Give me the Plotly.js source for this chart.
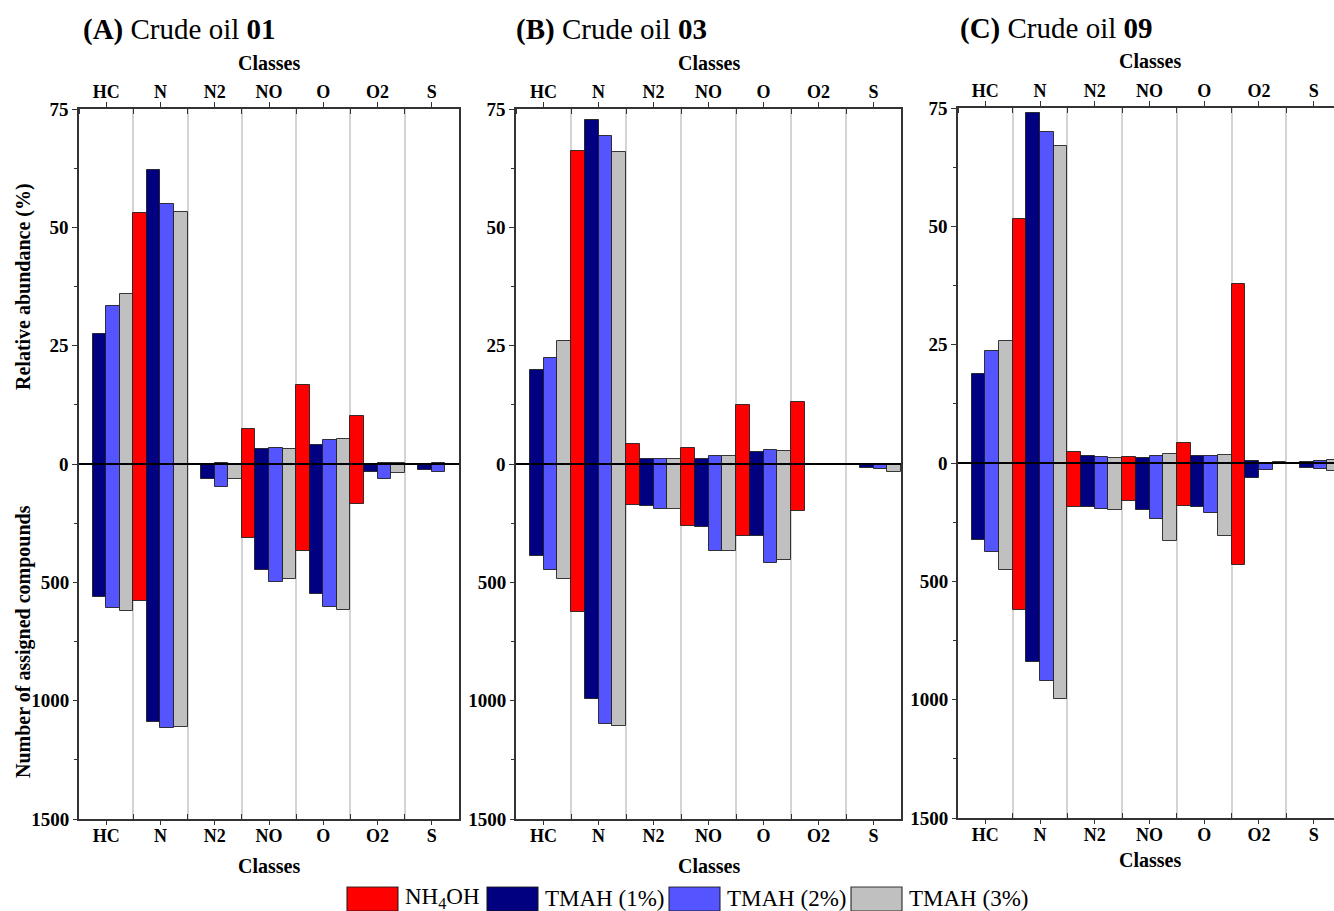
<!DOCTYPE html>
<html>
<head>
<meta charset="utf-8">
<script src="https://cdn.plot.ly/plotly-3.0.1.min.js"></script>
<style>
html,body{margin:0;padding:0;overflow:hidden;background:#fff;}
#chart{width:1342px;height:911px;}
</style>
</head>
<body>
<div id="chart"></div>
<script>
// ---------------- DATA ----------------
const categories = ['HC', 'N', 'N2', 'NO', 'O', 'O2', 'S'];
const seriesNames = ['NH<sub>4</sub>OH', 'TMAH (1%)', 'TMAH (2%)', 'TMAH (3%)'];
const panelTitles = ['<b>(A)</b> Crude oil <b>01</b>', '<b>(B)</b> Crude oil <b>03</b>', '<b>(C)</b> Crude oil <b>09</b>'];
const pctTickLabels = [0, 25, 50, 75];
const countTickLabels = [500, 1000, 1500];

// Crude oil 01 — relative abundance (%)
const oil01PctNH4OH = [null, 53.0, null, 7.4, 16.7, 10.1, null];
const oil01PctTMAH1 = [27.5, 62.1, 0, 3.2, 4.1, 0, 0];
const oil01PctTMAH2 = [33.4, 55.0, 0.2, 3.4, 5.0, 0.2, 0.2];
const oil01PctTMAH3 = [36.0, 53.3, 0, 3.1, 5.3, 0.2, 0];
// Crude oil 01 — number of assigned compounds
const oil01CntNH4OH = [null, 577, null, 312, 367, 168, null];
const oil01CntTMAH1 = [562, 1091, 62, 446, 549, 34, 27];
const oil01CntTMAH2 = [610, 1116, 97, 498, 604, 65, 34];
const oil01CntTMAH3 = [621, 1113, 63, 485, 615, 39, 5];

// Crude oil 03 — relative abundance (%)
const oil03PctNH4OH = [null, 66.2, 4.15, 3.4, 12.4, 13.1, null];
const oil03PctTMAH1 = [19.9, 72.7, 1.13, 1.06, 2.5, null, 0];
const oil03PctTMAH2 = [22.4, 69.3, 1.06, 1.7, 2.96, null, 0];
const oil03PctTMAH3 = [26.0, 65.9, 1.06, 1.76, 2.7, null, 0];
// Crude oil 03 — number of assigned compounds
const oil03CntNH4OH = [null, 625, 175, 264, 305, 200, null];
const oil03CntTMAH1 = [388, 991, 176, 265, 306, null, 16];
const oil03CntTMAH2 = [449, 1099, 190, 368, 418, null, 21];
const oil03CntTMAH3 = [485, 1109, 190, 368, 404, null, 35];

// Crude oil 09 — relative abundance (%)
const oil09PctNH4OH = [null, 51.5, 2.25, 1.2, 4.15, 37.8, null];
const oil09PctTMAH1 = [18.8, 73.9, 1.45, 1.0, 1.55, 0.35, 0.3];
const oil09PctTMAH2 = [23.7, 70.0, 1.34, 1.4, 1.4, 0.1, 0.35];
const oil09PctTMAH3 = [25.7, 66.9, 1.13, 1.83, 1.76, 0.2, 0.7];
// Crude oil 09 — number of assigned compounds
const oil09CntNH4OH = [null, 623, 184, 160, 183, 432, null];
const oil09CntTMAH1 = [326, 841, 186, 197, 184, 65, 20];
const oil09CntTMAH2 = [378, 923, 194, 235, 211, 31, 25];
const oil09CntTMAH3 = [452, 998, 198, 329, 307, 6, 35];

// ---------------- STYLE / LAYOUT ----------------
const seriesColors = ['#ff0000', '#000080', '#5555ff', '#c0c0c0'];
const FONT = '"Liberation Serif", "Times New Roman", Times, serif';
const W = 1342, H = 911;
const px = v => v / W;
const py = v => 1 - v / H;

const panelPct = [
  [oil01PctNH4OH, oil01PctTMAH1, oil01PctTMAH2, oil01PctTMAH3],
  [oil03PctNH4OH, oil03PctTMAH1, oil03PctTMAH2, oil03PctTMAH3],
  [oil09PctNH4OH, oil09PctTMAH1, oil09PctTMAH2, oil09PctTMAH3]
];
const panelCnt = [
  [oil01CntNH4OH, oil01CntTMAH1, oil01CntTMAH2, oil01CntTMAH3],
  [oil03CntNH4OH, oil03CntTMAH1, oil03CntTMAH2, oil03CntTMAH3],
  [oil09CntNH4OH, oil09CntTMAH1, oil09CntTMAH2, oil09CntTMAH3]
];

const boxes = [
  {l: 79, r: 459, t: 109, b: 819, titleX: 81, titleY: 29, topTitleY: 63, botTitleY: 866},
  {l: 516, r: 901, t: 109, b: 819, titleX: 514, titleY: 29, topTitleY: 63, botTitleY: 866},
  {l: 958, r: 1341, t: 108, b: 818, titleX: 958, titleY: 28, topTitleY: 61, botTitleY: 860}
];

const axisColor = '#333333';
const tickFontX = {family: FONT, size: 18, color: '#000', weight: 'bold'};
const tickFontY = {family: FONT, size: 19, color: '#000', weight: 'bold'};

const traces = [];
const layout = {
  width: W, height: H,
  margin: {l: 0, r: 0, t: 0, b: 0},
  paper_bgcolor: '#fff', plot_bgcolor: 'rgba(0,0,0,0)',
  barmode: 'group', bargap: 0, bargroupgap: 0,
  showlegend: false,
  font: {family: FONT, color: '#000'},
  annotations: [], shapes: []
};

const idx = categories.map((c, i) => i);

for (let p = 0; p < 3; p++) {
  const n = p + 1;
  const xId = p === 0 ? 'x' : 'x' + n;
  const yId = p === 0 ? 'y' : 'y' + n;
  const xTopId = 'x' + (n + 3);
  const xLabId = 'x' + (n + 6);
  const yCntId = 'y' + (n + 3);
  const key = id => id.replace('x', 'xaxis').replace('y', 'yaxis');
  const b = boxes[p];

  layout[key(xId)] = {
    domain: [px(b.l), px(b.r)], anchor: yId, type: 'category',
    categoryorder: 'array', categoryarray: categories, range: [-0.5, categories.length - 0.5],
    tickson: 'boundaries', ticks: 'inside', ticklen: 5, tickcolor: axisColor, tickwidth: 1.2,
    showticklabels: false, showgrid: true, gridcolor: '#d4d4d4', gridwidth: 1.5,
    showline: true, linecolor: axisColor, linewidth: 1.5, zeroline: false, fixedrange: true
  };
  layout[key(xTopId)] = {
    overlaying: xId, anchor: yId, side: 'top', type: 'linear',
    range: [-0.5, categories.length - 0.5], tickmode: 'array', tickvals: idx, ticktext: categories,
    ticks: 'outside', ticklen: 5, tickcolor: axisColor, tickwidth: 1.2, tickfont: tickFontX,
    ticklabelstandoff: -3,
    showline: true, linecolor: axisColor, linewidth: 1.5, showgrid: false, zeroline: false,
    fixedrange: true,
    minor: {tick0: 0.5, dtick: 1, ticks: 'inside', ticklen: 5, tickcolor: axisColor, showgrid: false}
  };
  layout[key(xLabId)] = {
    overlaying: xId, anchor: yId, side: 'bottom', type: 'linear',
    range: [-0.5, categories.length - 0.5], tickmode: 'array', tickvals: idx, ticktext: categories,
    ticks: 'outside', ticklen: 5, tickcolor: axisColor, tickwidth: 1.2, tickfont: tickFontX,
    ticklabelstandoff: -5,
    showline: false, showgrid: false, zeroline: false, fixedrange: true
  };
  layout[key(yId)] = {
    domain: [py(b.b), py(b.t)], anchor: xId, range: [-75, 75],
    tickmode: 'array', tickvals: pctTickLabels, ticktext: pctTickLabels.map(String),
    ticks: 'outside', ticklen: 5, tickcolor: axisColor, tickwidth: 1.2, tickfont: tickFontY,
    showline: true, mirror: true, linecolor: axisColor, linewidth: 1.5,
    showgrid: false, zeroline: false, fixedrange: true,
    minor: {tick0: 0, dtick: 12.5, ticks: 'outside', ticklen: 3, tickcolor: axisColor, showgrid: false}
  };
  layout[key(yCntId)] = {
    overlaying: yId, anchor: xId, side: 'left', range: [1500, -1500],
    tickmode: 'array', tickvals: countTickLabels, ticktext: countTickLabels.map(String),
    ticks: 'outside', ticklen: 5, tickcolor: axisColor, tickwidth: 1.2, tickfont: tickFontY,
    showline: false, showgrid: false, zeroline: false, fixedrange: true
  };

  for (let s = 0; s < 4; s++) {
    const common = {
      type: 'bar', x: categories, name: seriesNames[s], xaxis: xId,
      marker: {color: seriesColors[s], line: {color: 'rgba(25,25,25,0.85)', width: 1}},
      hoverinfo: 'x+y+name'
    };
    traces.push(Object.assign({}, common, {y: panelPct[p][s], yaxis: yId}));
    traces.push(Object.assign({}, common, {y: panelCnt[p][s], yaxis: yCntId}));
  }
  // invisible carriers so the top / bottom label axes are drawn
  [xTopId, xLabId].forEach(ax => {
    traces.push({
      type: 'scatter', mode: 'markers', x: idx, y: idx.map(() => 0),
      xaxis: ax, yaxis: yId, marker: {opacity: 0, size: 1}, hoverinfo: 'skip', showlegend: false
    });
  });

  // zero line on top of the bars
  layout.shapes.push({
    type: 'line', xref: xId + ' domain', yref: yId, x0: 0, x1: 1, y0: 0, y1: 0,
    line: {color: '#000', width: 2}, layer: 'above'
  });

  // panel title
  layout.annotations.push({
    xref: 'paper', yref: 'paper', x: px(b.titleX), y: py(b.titleY),
    xanchor: 'left', yanchor: 'middle', showarrow: false,
    text: panelTitles[p], font: {family: FONT, size: 29, color: '#000'}
  });
  // "Classes" top and bottom
  layout.annotations.push({
    xref: 'paper', yref: 'paper', x: px((b.l + b.r) / 2), y: py(b.topTitleY),
    xanchor: 'center', yanchor: 'middle', showarrow: false,
    text: '<b>Classes</b>', font: {family: FONT, size: 20, color: '#000'}
  });
  layout.annotations.push({
    xref: 'paper', yref: 'paper', x: px((b.l + b.r) / 2), y: py(b.botTitleY),
    xanchor: 'center', yanchor: 'middle', showarrow: false,
    text: '<b>Classes</b>', font: {family: FONT, size: 20, color: '#000'}
  });
}

// y-axis titles (panel A)
layout.annotations.push({
  xref: 'paper', yref: 'paper', x: px(23), y: py(287), xanchor: 'center', yanchor: 'middle',
  showarrow: false, textangle: -90, text: '<b>Relative abundance (%)</b>',
  font: {family: FONT, size: 20, color: '#000'}
});
layout.annotations.push({
  xref: 'paper', yref: 'paper', x: px(23), y: py(642), xanchor: 'center', yanchor: 'middle',
  showarrow: false, textangle: -90, text: '<b>Number of assigned compounds</b>',
  font: {family: FONT, size: 20, color: '#000'}
});

// manual legend (large swatches)
const legendBoxLeft = [347, 487, 669, 851];
const legendBoxW = 51;
for (let s = 0; s < 4; s++) {
  const x0 = legendBoxLeft[s];
  layout.shapes.push({
    type: 'rect', xref: 'paper', yref: 'paper',
    x0: px(x0), x1: px(x0 + legendBoxW), y0: py(911), y1: py(887),
    fillcolor: seriesColors[s], line: {color: 'rgba(25,25,25,0.85)', width: 1.2}
  });
  layout.annotations.push({
    xref: 'paper', yref: 'paper', x: px(x0 + legendBoxW + 5), y: py(898),
    xanchor: 'left', yanchor: 'middle', showarrow: false,
    text: seriesNames[s], font: {family: FONT, size: 23, color: '#000'}
  });
}

Plotly.newPlot('chart', traces, layout, {displayModeBar: false, responsive: false});
</script>
</body>
</html>
